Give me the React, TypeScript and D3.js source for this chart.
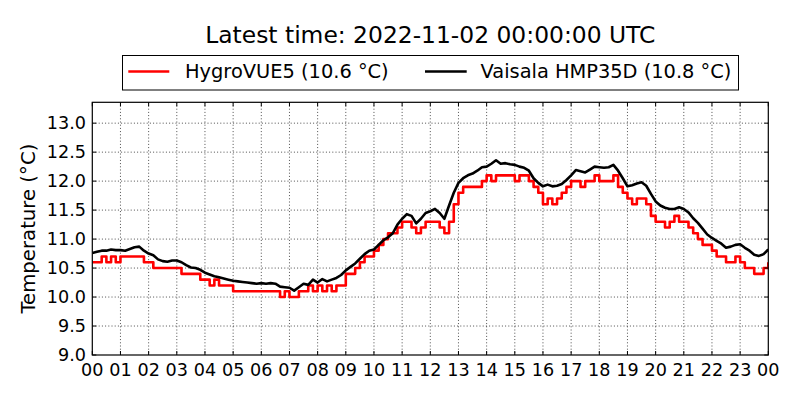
import React from "react";
import * as d3 from "d3";

// 10-minute samples from 00:00 to 24:00 (145 values each)
const hygroVUE5: number[] = [
  10.6, 10.6, 10.7, 10.6, 10.7, 10.6,
  10.7, 10.7, 10.7, 10.7, 10.7, 10.6,
  10.6, 10.5, 10.5, 10.5, 10.5, 10.5,
  10.5, 10.4, 10.4, 10.4, 10.4, 10.3,
  10.3, 10.2, 10.3, 10.2, 10.2, 10.2,
  10.1, 10.1, 10.1, 10.1, 10.1, 10.1,
  10.1, 10.1, 10.1, 10.1, 10.0, 10.1,
  10.0, 10.0, 10.1, 10.1, 10.2, 10.1,
  10.2, 10.1, 10.2, 10.1, 10.2, 10.2,
  10.4, 10.4, 10.5, 10.6, 10.7, 10.7,
  10.8, 10.9, 11.0, 11.1, 11.1, 11.2,
  11.3, 11.3, 11.2, 11.1, 11.2, 11.3,
  11.3, 11.3, 11.2, 11.1, 11.3, 11.6,
  11.8, 11.9, 11.9, 11.9, 11.9, 12.0,
  12.1, 12.0, 12.1, 12.1, 12.1, 12.1,
  12.0, 12.1, 12.1, 12.0, 11.9, 11.8,
  11.6, 11.7, 11.6, 11.7, 11.8, 11.9,
  12.0, 12.0, 11.9, 12.0, 12.0, 12.1,
  12.0, 12.0, 12.0, 12.1, 11.9, 11.8,
  11.7, 11.6, 11.7, 11.7, 11.6, 11.4,
  11.3, 11.3, 11.2, 11.3, 11.4, 11.3,
  11.3, 11.2, 11.1, 11.0, 10.9, 10.9,
  10.8, 10.7, 10.7, 10.6, 10.6, 10.7,
  10.6, 10.5, 10.5, 10.4, 10.4, 10.5,
  10.6,
];

const hmp35d: number[] = [
  10.76, 10.78, 10.80, 10.80, 10.82, 10.81,
  10.81, 10.80, 10.83, 10.86, 10.87, 10.80,
  10.75, 10.72, 10.65, 10.62, 10.61, 10.63,
  10.63, 10.60, 10.55, 10.51, 10.50, 10.47,
  10.42, 10.39, 10.36, 10.34, 10.32, 10.30,
  10.28, 10.27, 10.26, 10.25, 10.24, 10.23,
  10.24, 10.23, 10.24, 10.23, 10.18, 10.17,
  10.16, 10.11, 10.17, 10.23, 10.21, 10.30,
  10.25, 10.31, 10.27, 10.30, 10.33, 10.38,
  10.46, 10.52, 10.58, 10.66, 10.74, 10.80,
  10.82, 10.90, 10.98, 11.03, 11.10, 11.25,
  11.35, 11.43, 11.40, 11.27, 11.35, 11.45,
  11.48, 11.52, 11.45, 11.35, 11.58, 11.80,
  11.97, 12.05, 12.10, 12.13, 12.18, 12.24,
  12.25, 12.30, 12.36, 12.30, 12.31, 12.29,
  12.28, 12.25, 12.23, 12.18, 12.05, 11.97,
  11.91, 11.94, 11.91, 11.92, 11.95, 12.02,
  12.10, 12.19, 12.17, 12.15, 12.20, 12.25,
  12.24, 12.23, 12.24, 12.28, 12.18, 12.05,
  11.91, 11.93, 11.96, 11.98, 11.92, 11.78,
  11.65, 11.58, 11.54, 11.52, 11.52, 11.55,
  11.52, 11.46, 11.36, 11.28, 11.18, 11.08,
  11.02, 10.97, 10.92, 10.85, 10.87, 10.90,
  10.91, 10.85, 10.80, 10.73, 10.71, 10.74,
  10.82,
];

const xTickLabels: string[] = [
  "00", "01", "02", "03", "04", "05", "06", "07", "08", "09", "10", "11",
  "12", "13", "14", "15", "16", "17", "18", "19", "20", "21", "22", "23", "00",
];
const yTicks: number[] = [9.0, 9.5, 10.0, 10.5, 11.0, 11.5, 12.0, 12.5, 13.0];

const titleText = "Latest time: 2022-11-02 00:00:00 UTC";
const seriesNames = ["HygroVUE5 (10.6 °C)", "Vaisala HMP35D (10.8 °C)"];
const seriesColors = ["#ff0000", "#000000"];
const yLabel = "Temperature (°C)";

const W = 800;
const H = 400;
const m = { left: 92.3, right: 768.3, top: 102.3, bottom: 355 };
const FONT = "DejaVu Sans, sans-serif";

export default function App() {
  const x = d3.scaleLinear().domain([0, 24]).range([m.left, m.right]);
  const y = d3.scaleLinear().domain([9.0, 13.36]).range([m.bottom, m.top]);
  const stepH = 1 / 6;

  const redLine = d3
    .line<number>()
    .x((_, i) => x(i * stepH))
    .y((d) => y(d))
    .curve(d3.curveStepAfter);
  const blackLine = d3
    .line<number>()
    .x((_, i) => x(i * stepH))
    .y((d) => y(d));

  const hours = d3.range(0, 25);
  const tickLen = 4;

  return (
    <div style={{ position: "absolute", left: 0, top: 0 }}>
      <svg width={W} height={H} style={{ display: "block", background: "#fff" }} fontFamily={FONT}>
        <rect x={0} y={0} width={W} height={H} fill="#fff" />
        <defs>
          <clipPath id="plotclip">
            <rect x={m.left} y={m.top} width={m.right - m.left} height={m.bottom - m.top} />
          </clipPath>
        </defs>
        {/* grid */}
        <g stroke="#000" strokeWidth={0.7} strokeDasharray="1,2.2">
          {hours.slice(1, 24).map((h) => (
            <line key={"gx" + h} x1={x(h)} x2={x(h)} y1={m.top} y2={m.bottom} />
          ))}
          {yTicks.slice(1).map((t) => (
            <line key={"gy" + t} x1={m.left} x2={m.right} y1={y(t)} y2={y(t)} />
          ))}
        </g>
        {/* data */}
        <g clipPath="url(#plotclip)" fill="none" strokeLinejoin="round">
          <path d={redLine(hygroVUE5) || ""} stroke={seriesColors[0]} strokeWidth={2.6} />
          <path d={blackLine(hmp35d) || ""} stroke={seriesColors[1]} strokeWidth={2.6} />
        </g>
        {/* ticks */}
        <g stroke="#000" strokeWidth={1}>
          {hours.map((h) => (
            <g key={"tx" + h}>
              <line x1={x(h)} x2={x(h)} y1={m.bottom} y2={m.bottom - tickLen} />
              <line x1={x(h)} x2={x(h)} y1={m.top} y2={m.top + tickLen} />
            </g>
          ))}
          {yTicks.map((t) => (
            <g key={"ty" + t}>
              <line x1={m.left} x2={m.left + tickLen} y1={y(t)} y2={y(t)} />
              <line x1={m.right} x2={m.right - tickLen} y1={y(t)} y2={y(t)} />
            </g>
          ))}
        </g>
        {/* frame */}
        <rect
          x={m.left}
          y={m.top}
          width={m.right - m.left}
          height={m.bottom - m.top}
          fill="none"
          stroke="#000"
          strokeWidth={1.2}
        />
        {/* tick labels */}
        <g fontSize={17.6} fill="#000">
          {hours.map((h) => (
            <text key={"lx" + h} x={x(h)} y={375.5} textAnchor="middle">
              {xTickLabels[h]}
            </text>
          ))}
          {yTicks.map((t) => (
            <text key={"ly" + t} x={86} y={y(t)} textAnchor="end" dominantBaseline="central">
              {d3.format(".1f")(t)}
            </text>
          ))}
        </g>
        {/* y label */}
        <text
          transform={`translate(35,${(m.top + m.bottom) / 2}) rotate(-90)`}
          textAnchor="middle"
          fontSize={19.7}
          fill="#000"
        >
          {yLabel}
        </text>
        {/* title */}
        <text x={(m.left + m.right) / 2} y={42.7} textAnchor="middle" fontSize={23.4} fill="#000">
          {titleText}
        </text>
        {/* legend */}
        <rect x={122.5} y={55.5} width={616} height={34.5} fill="#fff" stroke="#000" strokeWidth={1} />
        <line x1={128.3} x2={169.3} y1={71.5} y2={71.5} stroke={seriesColors[0]} strokeWidth={2.6} />
        <text x={185} y={78} fontSize={19.4} fill="#000">
          {seriesNames[0]}
        </text>
        <line x1={425} x2={466.7} y1={71.5} y2={71.5} stroke={seriesColors[1]} strokeWidth={2.6} />
        <text x={480.5} y={78} fontSize={19.4} fill="#000">
          {seriesNames[1]}
        </text>
      </svg>
    </div>
  );
}
